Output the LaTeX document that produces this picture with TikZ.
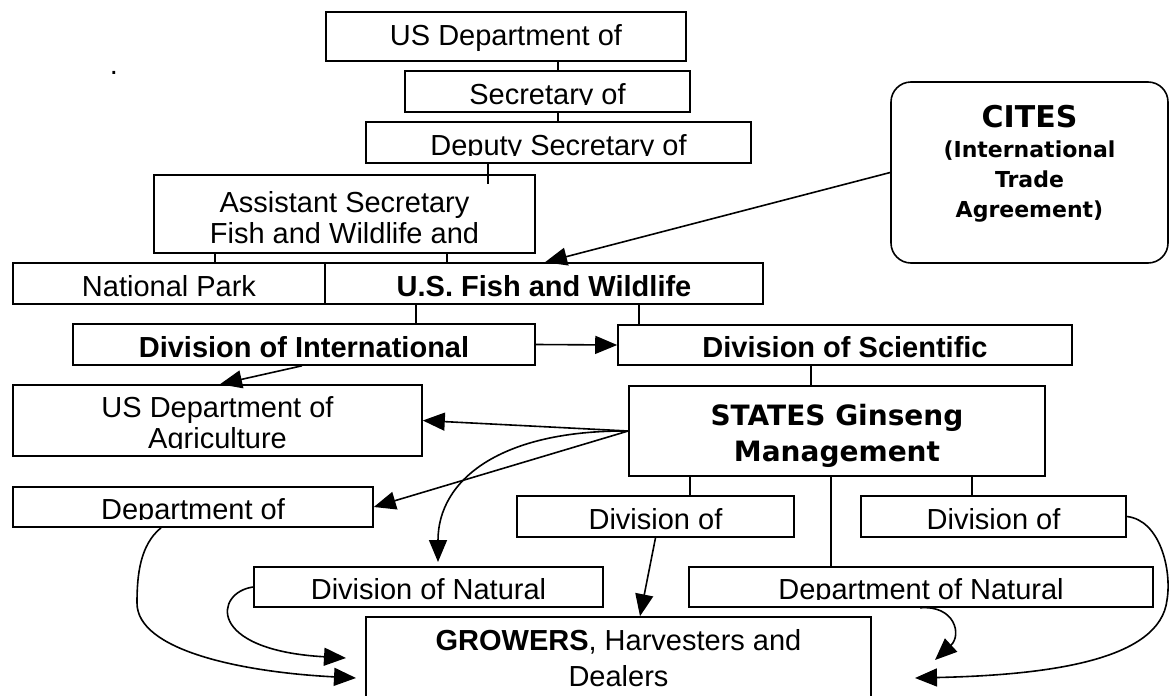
\documentclass[tikz,border=0pt]{standalone}
\usepackage{fontspec}
\setmainfont{Liberation Sans}
\newfontfamily\verdana{DejaVu Sans}
\usetikzlibrary{arrows.meta}
\newcommand\boxfont{\fontsize{29}{31}\selectfont}

\begin{document}
\begin{tikzpicture}[x=1pt,y=-1pt,line width=1.6pt,
	box/.style={draw, inner sep=0pt},
	lbl/.style n args={3}{path picture={
		\clip ([yshift=8pt]path picture bounding box.south west) rectangle (path picture bounding box.north east);
		\node[anchor=base, align=center, inner sep=0pt, font=#1] at ([yshift=#2]path picture bounding box.south) {#3};}},
	arr/.style={-{Triangle[length=22pt,width=18pt]}}]
	\useasboundingbox (0,0) rectangle (1170,696);
	\node[font=\boxfont, inner sep=0pt, anchor=base] (dot) at (114,74) {.};
	\node[box, minimum width=360pt, minimum height=49pt, lbl={\boxfont}{16pt}{US Department of}] (usdi) at (506,36.5) {};
	\node[box, minimum width=285pt, minimum height=41pt, lbl={\boxfont}{8pt}{Secretary of}] (secy) at (547.5,91.5) {};
	\node[box, minimum width=385pt, minimum height=41pt, lbl={\boxfont}{8pt}{Deputy Secretary of}] (deputy) at (558.5,142.5) {};
	\node[box, minimum width=381pt, minimum height=78pt, lbl={\boxfont}{10pt}{Assistant Secretary\\Fish and Wildlife and}] (asst) at (344.5,214) {};
	\node[box, minimum width=312pt, minimum height=41pt, lbl={\boxfont}{8pt}{National Park}] (nps) at (169,283.5) {};
	\node[box, minimum width=438pt, minimum height=41pt, lbl={\boxfont\bfseries}{8pt}{U.S. Fish and Wildlife}] (fws) at (544,283.5) {};
	\node[box, rounded corners=20pt, minimum width=277pt, minimum height=181pt, lbl={\verdana\bfseries\fontsize{22}{30}\selectfont}{46pt}{{\fontsize{30}{30}\selectfont CITES}\\(International\\Trade\\Agreement)}] (cites) at (1029.5,172.5) {};
	\node[box, minimum width=462pt, minimum height=41pt, lbl={\boxfont\bfseries}{8pt}{Division of International}] (intl) at (304,344.5) {};
	\node[box, minimum width=454pt, minimum height=40pt, lbl={\boxfont\bfseries}{8pt}{Division of Scientific}] (sci) at (845,345) {};
	\node[box, minimum width=409pt, minimum height=71pt, lbl={\boxfont}{8pt}{US Department of\\Agriculture}] (usda) at (217.5,420.5) {};
	\node[box, minimum width=416pt, minimum height=90pt, lbl={\verdana\bfseries\fontsize{28}{36}\selectfont}{15pt}{STATES Ginseng\\Management}] (states) at (837,431) {};
	\node[box, minimum width=360pt, minimum height=40pt, lbl={\boxfont}{8pt}{Department of}] (dept) at (193,507) {};
	\node[box, minimum width=277pt, minimum height=41pt, lbl={\boxfont}{8pt}{Division of}] (divl) at (655.5,516.5) {};
	\node[box, minimum width=265pt, minimum height=41pt, lbl={\boxfont}{8pt}{Division of}] (divr) at (993.5,516.5) {};
	\node[box, minimum width=349pt, minimum height=40pt, lbl={\boxfont}{8pt}{Division of Natural}] (dnr) at (428.5,587) {};
	\node[box, minimum width=464pt, minimum height=40pt, lbl={\boxfont}{8pt}{Department of Natural}] (dnat) at (921,587) {};
	\node[box, minimum width=505pt, minimum height=85pt, lbl={\fontsize{29}{36}\selectfont}{16pt}{\textbf{GROWERS}, Harvesters and\\Dealers}] (grow) at (618.5,659.5) {};
	\coordinate (tipn) at (438,562);
	\coordinate (tipa) at (356,678);
	\coordinate (tipb) at (346,658);
	\coordinate (tipc) at (935,660);
	\coordinate (tipd) at (915,678);
	\draw (usdi.south -| 558,0) -- (secy.north -| 558,0);
	\draw (secy.south -| 558,0) -- (deputy.north -| 558,0);
	\draw (deputy.south -| 488,0) -- ++(0,20);
	\draw (asst.south -| 215,0) -- (nps.north -| 215,0);
	\draw (asst.south -| 447,0) -- (fws.north -| 447,0);
	\draw (fws.south -| 416,0) -- (intl.north -| 416,0);
	\draw (fws.south -| 639,0) -- (sci.north -| 639,0);
	\draw (sci.south -| 811,0) -- (states.north -| 811,0);
	\draw (states.south -| 690,0) -- (divl.north -| 690,0);
	\draw (states.south -| 831,0) -- (dnat.north -| 831,0);
	\draw (states.south -| 972,0) -- (divr.north -| 972,0);
	\draw[arr] (cites.west) -- (fws.north -| 545,0);
	\draw[arr] (intl.east) -- (sci.west);
	\draw[arr] (intl.south -| 302,0) -- (usda.north -| 220,0);
	\draw[arr] (states.west) -- (usda.east);
	\draw[arr] (states.west) -- (dept.east);
	\draw[arr] (states.west) .. controls (500,430) and (438,480) .. (tipn);
	\draw[arr] (divl.south) -- (grow.north -| 640,0);
	\draw[arr] (dept.south -| 161,0) .. controls (140,545) and (137,575) .. (137,603) .. controls (137,650) and (240,672) .. (tipa);
	\draw[arr] (dnr.west) .. controls (215,592) and (205,650) .. (tipb);
	\draw[arr] (dnat.south -| 920,0) .. controls (955,605) and (962,635) .. (tipc);
	\draw[arr] (divr.east) .. controls (1160,520) and (1172,570) .. (1167,600) .. controls (1160,660) and (1050,675) .. (tipd);
\end{tikzpicture}
\end{document}
